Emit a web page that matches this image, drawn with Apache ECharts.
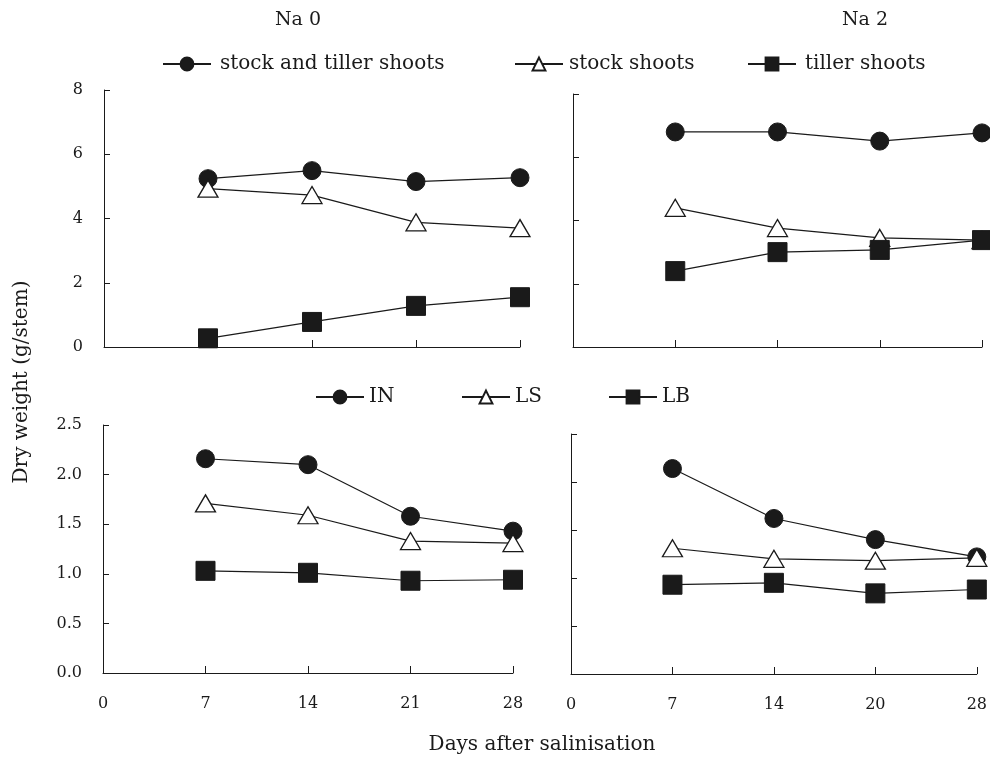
<!DOCTYPE html>
<html>
<head>
<meta charset="utf-8">
<script src="https://cdn.jsdelivr.net/npm/echarts@6/dist/echarts.min.js"></script>
<style>
  html, body { margin: 0; padding: 0; background: #fff; }
  #chart { width: 990px; height: 757px; }
</style>
</head>
<body>
<div id="chart"></div>
<script>
// x categories (days after salinisation)
const daysNa0 = ['0', '7', '14', '21', '28']
const daysNa2 = ['0', '7', '14', '20', '28']

// shoots (g/stem), sampled at days 7..28
const stockTillerNa0 = [5.24, 5.49, 5.15, 5.27]
const stockNa0 = [4.93, 4.73, 3.88, 3.70]
const tillerNa0 = [0.27, 0.78, 1.28, 1.55]
const stockTillerNa2 = [6.80, 6.80, 6.51, 6.77]
const stockNa2 = [4.40, 3.76, 3.45, 3.38]
const tillerNa2 = [2.40, 3.00, 3.07, 3.38]

// organs (g/stem)
const inNa0 = [2.16, 2.10, 1.58, 1.43]
const lsNa0 = [1.71, 1.59, 1.33, 1.31]
const lbNa0 = [1.03, 1.01, 0.93, 0.94]
const inNa2 = [2.14, 1.62, 1.40, 1.22]
const lsNa2 = [1.31, 1.20, 1.18, 1.21]
const lbNa2 = [0.93, 0.95, 0.84, 0.88]

// standard errors for IN
const inNa0Err = [0.06, 0.02, 0.02, 0.06]
const inNa2Err = [0.05, 0.06, 0.02, 0.02]

const yTicksTop = [0, 8, 2]
const yTicksBottom = [0, 2.5, 0.5]

const font = 'DejaVu Serif'
const black = '#1a1a1a'

function pairs(days, vals) {
  return days.slice(1).map((d, i) => [d, vals[i]])
}

function lineSeries(name, idx, days, vals, kind) {
  const s = {
    name,
    type: 'line',
    xAxisIndex: idx,
    yAxisIndex: idx,
    data: pairs(days, vals),
    lineStyle: { color: black, width: 1.2 },
    symbol: 'circle',
    symbolSize: 18,
    itemStyle: { color: black, borderColor: black, borderWidth: 1 },
    emphasis: { disabled: true },
    animation: false
  }
  if (kind === 'tri') {
    s.symbol = 'triangle'
    s.symbolSize = [20, 17]
    s.itemStyle = { color: '#fff', borderColor: black, borderWidth: 1.3 }
  } else if (kind === 'sq') {
    s.symbol = 'rect'
    s.symbolSize = 19
  }
  return s
}

function errSeries(idx, days, vals, errs) {
  return {
    type: 'custom',
    xAxisIndex: idx,
    yAxisIndex: idx,
    data: days.slice(1).map((d, i) => [i + 1, vals[i] - errs[i], vals[i] + errs[i]]),
    renderItem(params, api) {
      const lo = api.coord([api.value(0), api.value(1)])
      const hi = api.coord([api.value(0), api.value(2)])
      const w = 6
      const style = { stroke: black, lineWidth: 1.2 }
      return {
        type: 'group',
        children: [
          { type: 'line', shape: { x1: lo[0], y1: lo[1], x2: hi[0], y2: hi[1] }, style },
          { type: 'line', shape: { x1: lo[0] - w, y1: lo[1], x2: lo[0] + w, y2: lo[1] }, style },
          { type: 'line', shape: { x1: hi[0] - w, y1: hi[1], x2: hi[0] + w, y2: hi[1] }, style }
        ]
      }
    },
    z: 1,
    animation: false
  }
}

function xAxis(idx, days, showLabel) {
  return {
    type: 'category',
    gridIndex: idx,
    data: days,
    boundaryGap: false,
    axisLine: { lineStyle: { color: black, width: 1 } },
    axisTick: { inside: true, length: 7, lineStyle: { color: black } },
    axisLabel: { show: showLabel, color: black, fontFamily: font, fontSize: 16, margin: 23 },
    splitLine: { show: false }
  }
}

function yAxis(idx, ticks, showLabel, digits) {
  return {
    type: 'value',
    gridIndex: idx,
    min: ticks[0],
    max: ticks[1],
    interval: ticks[2],
    axisLine: { show: true, lineStyle: { color: black, width: 1 } },
    axisTick: { show: true, inside: true, length: 6, lineStyle: { color: black } },
    axisLabel: {
      show: showLabel, color: black, fontFamily: font, fontSize: 16, margin: 21,
      formatter: (v) => v.toFixed(digits)
    },
    splitLine: { show: false }
  }
}

function legendItem(name, left, top, gap) {
  return {
    data: [name],
    left, top,
    padding: 0,
    itemWidth: 48,
    itemHeight: 16,
    selectedMode: false,
    textStyle: { fontFamily: font, fontSize: 20, color: black, padding: [0, 0, 0, gap] }
  }
}

const chart = echarts.init(document.getElementById('chart'))

const option = {
  backgroundColor: '#fff',
  title: [
    { text: 'Na 0', left: 293, top: 6, textAlign: 'center', textStyle: { fontFamily: font, fontSize: 19, fontWeight: 'normal', color: black } },
    { text: 'Na 2', left: 860, top: 6, textAlign: 'center', textStyle: { fontFamily: font, fontSize: 19, fontWeight: 'normal', color: black } }
  ],
  legend: [
    legendItem('stock and tiller shoots', 162, 54, 4),
    legendItem('stock shoots', 514, 54, 1),
    legendItem('tiller shoots', 747, 54, 4),
    legendItem('IN', 315, 387, 0),
    legendItem('LS', 461, 387, 0),
    legendItem('LB', 608, 387, 0)
  ],
  grid: [
    { left: 104, top: 90, width: 416, height: 257 },
    { left: 573, top: 94, width: 409, height: 253 },
    { left: 103, top: 425, width: 410, height: 248 },
    { left: 571, top: 434, width: 411, height: 240 }
  ],
  xAxis: [
    xAxis(0, daysNa0, false),
    xAxis(1, daysNa2, false),
    xAxis(2, daysNa0, true),
    xAxis(3, daysNa2, true)
  ],
  yAxis: [
    yAxis(0, yTicksTop, true, 0),
    yAxis(1, yTicksTop, false, 0),
    yAxis(2, yTicksBottom, true, 1),
    yAxis(3, yTicksBottom, false, 1)
  ],
  graphic: [
    {
      type: 'text', x: 22, y: 382, rotation: Math.PI / 2,
      style: { text: 'Dry weight (g/stem)', x: 0, y: 0, align: 'center', verticalAlign: 'middle', font: '20px "DejaVu Serif"', fill: black }
    },
    {
      type: 'text', x: 542, y: 745,
      style: { text: 'Days after salinisation', x: 0, y: 0, align: 'center', verticalAlign: 'middle', font: '20px "DejaVu Serif"', fill: black }
    }
  ],
  series: [
    lineSeries('stock and tiller shoots', 0, daysNa0, stockTillerNa0, 'dot'),
    lineSeries('stock shoots', 0, daysNa0, stockNa0, 'tri'),
    lineSeries('tiller shoots', 0, daysNa0, tillerNa0, 'sq'),
    lineSeries('stock and tiller shoots', 1, daysNa2, stockTillerNa2, 'dot'),
    lineSeries('stock shoots', 1, daysNa2, stockNa2, 'tri'),
    lineSeries('tiller shoots', 1, daysNa2, tillerNa2, 'sq'),
    errSeries(2, daysNa0, inNa0, inNa0Err),
    errSeries(3, daysNa2, inNa2, inNa2Err),
    lineSeries('IN', 2, daysNa0, inNa0, 'dot'),
    lineSeries('LS', 2, daysNa0, lsNa0, 'tri'),
    lineSeries('LB', 2, daysNa0, lbNa0, 'sq'),
    lineSeries('IN', 3, daysNa2, inNa2, 'dot'),
    lineSeries('LS', 3, daysNa2, lsNa2, 'tri'),
    lineSeries('LB', 3, daysNa2, lbNa2, 'sq')
  ]
}

chart.setOption(option)
</script>
</body>
</html>
